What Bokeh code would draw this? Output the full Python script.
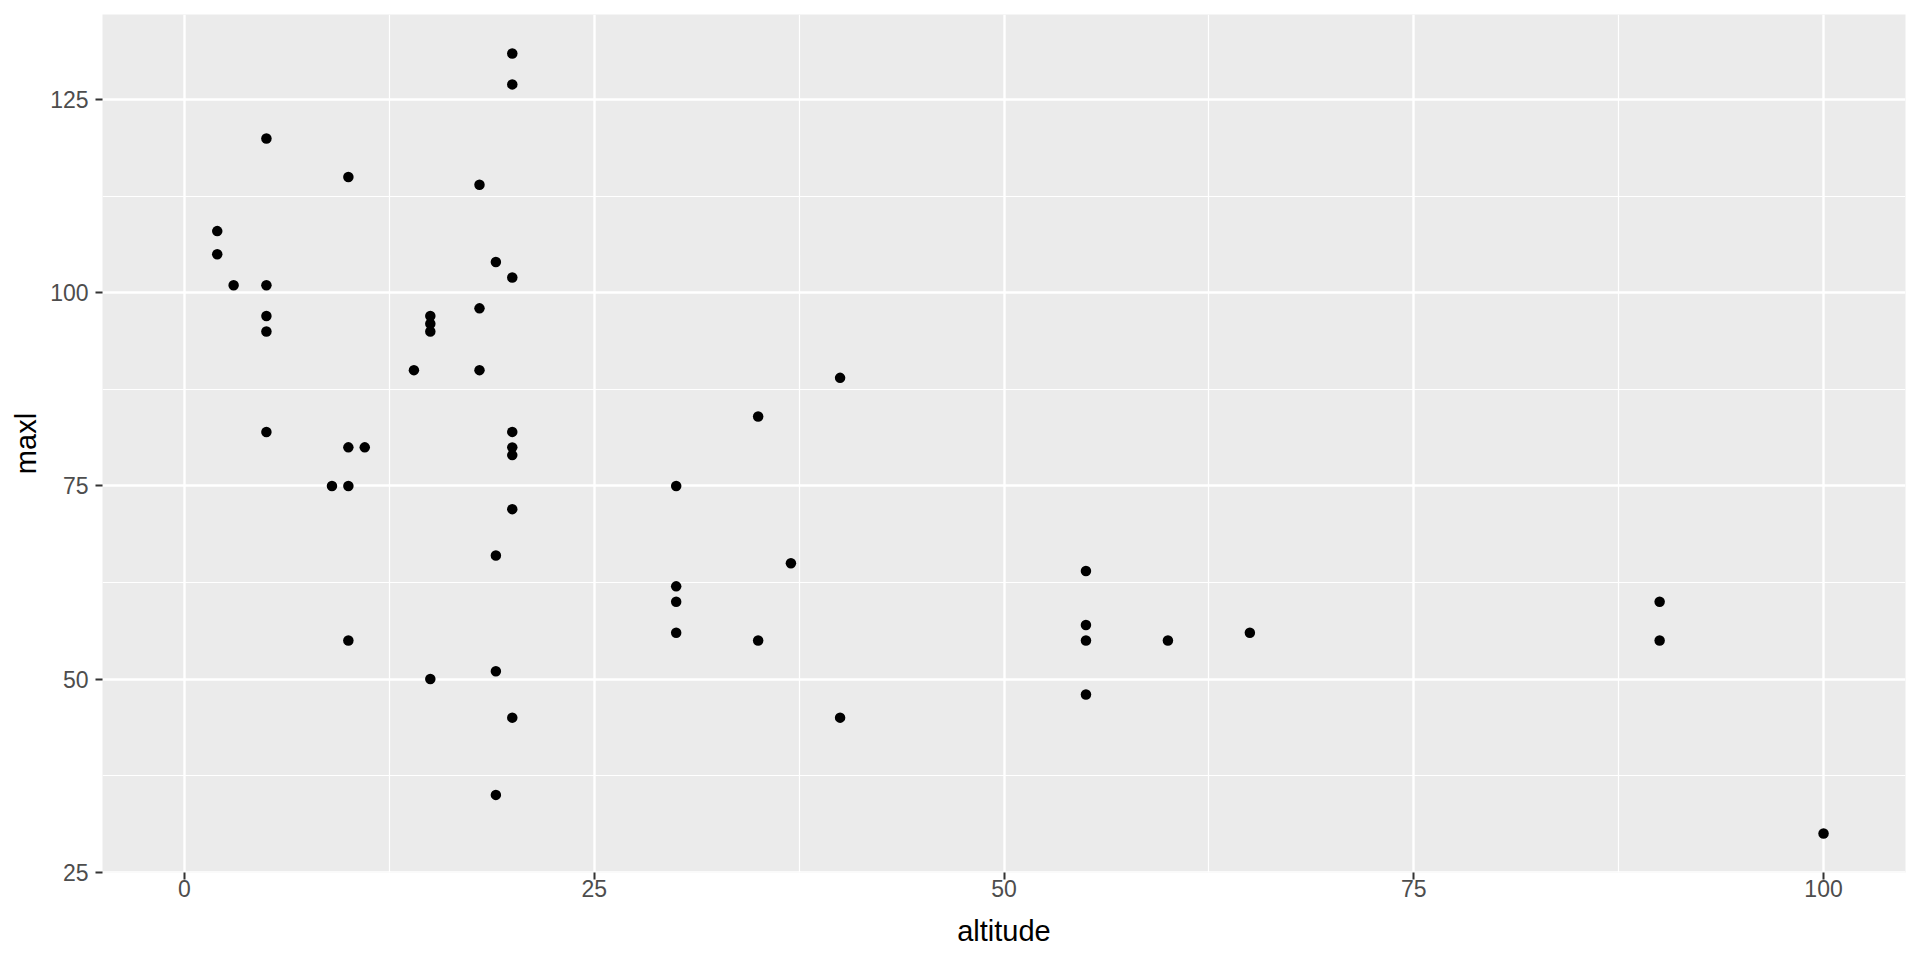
from bokeh.plotting import figure
from bokeh.models import ColumnDataSource, FixedTicker, Range1d
from bokeh.embed import file_html
from bokeh.resources import INLINE

altitude = [20, 20, 5, 10, 18, 2, 2, 3, 5, 19, 20, 18, 5, 15, 15, 5, 15, 14, 18, 5,
            20, 10, 11, 20, 20, 9, 10, 20, 19, 10, 19, 15, 20, 19, 30, 30, 30, 30,
            35, 35, 37, 40, 40, 55, 55, 55, 55, 60, 65, 90, 90, 100]
maxl = [131, 127, 120, 115, 114, 108, 105, 101, 101, 104, 102, 98, 97, 97, 96, 95, 95, 90, 90, 82,
        82, 80, 80, 80, 79, 75, 75, 72, 66, 55, 51, 50, 45, 35, 75, 62, 60, 56,
        84, 55, 65, 89, 45, 64, 57, 55, 48, 55, 56, 60, 55, 30]

x_limits = [0, 100]
x_major = [0, 25, 50, 75, 100]
x_minor = [12.5, 37.5, 62.5, 87.5]
y_major = [25, 50, 75, 100, 125]
y_minor = [37.5, 62.5, 87.5, 112.5]

src = ColumnDataSource(data=dict(altitude=altitude, maxl=maxl))

xmin, xmax = x_limits
ymin, ymax = min(maxl), max(maxl)
xpad = (xmax - xmin) * 0.05
ypad = (ymax - ymin) * 0.05

p = figure(width=1912, height=952, output_backend="svg", toolbar_location=None,
           x_range=Range1d(xmin - xpad, xmax + xpad),
           y_range=Range1d(ymin - ypad, ymax + ypad),
           min_border_left=102, min_border_right=7, min_border_top=14, min_border_bottom=80)

p.background_fill_color = "#EBEBEB"
p.border_fill_color = "white"
p.outline_line_color = None

p.scatter("altitude", "maxl", source=src, size=10.5, color="black", line_color=None)

p.xaxis.ticker = FixedTicker(ticks=x_major, minor_ticks=x_minor)
p.yaxis.ticker = FixedTicker(ticks=y_major, minor_ticks=y_minor)

for g in (p.xgrid, p.ygrid):
    g.grid_line_color = "white"
    g.grid_line_width = 2.4
    g.minor_grid_line_color = "white"
    g.minor_grid_line_width = 1.2

for ax in (p.xaxis, p.yaxis):
    ax.axis_line_color = None
    ax.major_tick_line_color = "#333333"
    ax.major_tick_line_width = 2
    ax.major_tick_out = 7
    ax.major_tick_in = 0
    ax.minor_tick_line_color = None
    ax.major_label_text_font = "Liberation Sans"
    ax.major_label_text_font_size = "23px"
    ax.major_label_text_color = "#4D4D4D"
    ax.axis_label_text_font = "Liberation Sans"
    ax.axis_label_text_font_size = "29px"
    ax.axis_label_text_font_style = "normal"
    ax.axis_label_text_color = "black"

p.xaxis.axis_label = "altitude"
p.yaxis.axis_label = "maxl"
p.xaxis.major_label_standoff = 0
p.yaxis.major_label_standoff = 7
p.xaxis.axis_label_standoff = 15
p.yaxis.axis_label_standoff = 5

open("out.html", "w").write(file_html(p, INLINE))
